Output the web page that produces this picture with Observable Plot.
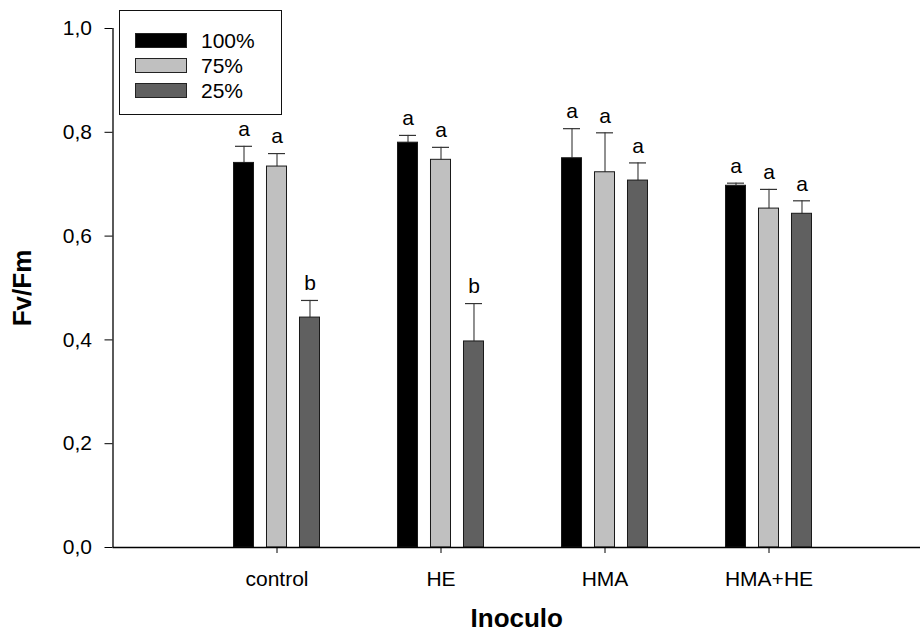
<!DOCTYPE html>
<html>
<head>
<meta charset="utf-8">
<script src="https://cdn.jsdelivr.net/npm/d3@7"></script>
<script src="https://cdn.jsdelivr.net/npm/@observablehq/plot@0.6"></script>
<style>
  html, body { margin: 0; padding: 0; background: #fff; }
  #wrap { position: relative; width: 920px; height: 633px; font-family: "Liberation Sans", Arial, sans-serif; }
  #legend {
    position: absolute; left: 119px; top: 10px; width: 163px; height: 105px;
    border: 1.5px solid #111; background: #fff; box-sizing: border-box;
    padding-top: 17px; padding-left: 15px;
  }
  .row { display: flex; align-items: center; height: 25px; }
  .sw { width: 52px; height: 15px; border: 1px solid #222; box-sizing: border-box; margin-right: 14px; }
  .lab { font-size: 21px; color: #000; line-height: 1; }
</style>
</head>
<body>
<div id="wrap"><div id="legend"></div></div>
<script>
// Fv/Fm by inoculum (groups) and irrigation level (series), mean + standard error
const groups = ["control", "HE", "HMA", "HMA+HE"];
const series = ["100%", "75%", "25%"];
const colors = ["#000000", "#c0c0c0", "#606060"];

const fvfm100 = [0.741, 0.780, 0.750, 0.697];
const fvfm75  = [0.734, 0.747, 0.723, 0.653];
const fvfm25  = [0.443, 0.397, 0.707, 0.643];

const se100 = [0.032, 0.014, 0.057, 0.005];
const se75  = [0.025, 0.024, 0.076, 0.037];
const se25  = [0.033, 0.073, 0.034, 0.025];

const letters100 = ["a", "a", "a", "a"];
const letters75  = ["a", "a", "a", "a"];
const letters25  = ["b", "b", "a", "a"];

const yTicks = [0, 0.2, 0.4, 0.6, 0.8, 1.0];

// long table built from the arrays above
const means = [fvfm100, fvfm75, fvfm25];
const errors = [se100, se75, se25];
const letters = [letters100, letters75, letters25];
const table = [];
groups.forEach((g, gi) => {
  series.forEach((s, si) => {
    table.push({group: g, gi, series: s, si, value: means[si][gi], se: errors[si][gi], letter: letters[si][gi]});
  });
});

// bar layout in x units (group index 1..4)
const offset = 0.2012;   // spacing between bars within a group
const half = 0.061;      // half bar width
const cap = 0.052;       // half error-cap width
const pos = d => d.gi + 1 + (d.si - 1) * offset;
const comma = v => v.toFixed(1).replace(".", ",");

const W = 920, H = 633, mL = 112.5, mR = 0, mT = 28, mB = 86;

const chart = Plot.plot({
  width: W,
  height: H,
  marginLeft: mL,
  marginRight: mR,
  marginTop: mT,
  marginBottom: mB,
  style: {fontFamily: "'Liberation Sans', Arial, sans-serif", color: "#000", background: "#fff", overflow: "visible"},
  x: {domain: [0, (W - mL - mR) / 164], axis: null},
  y: {domain: [0, 1], axis: null},
  color: {domain: series, range: colors},
  marks: [
    Plot.axisY({ticks: yTicks, tickFormat: comma, tickSize: 8, tickPadding: 13, fontSize: 21, label: null, stroke: "#000"}),
    Plot.axisX({ticks: [1, 2, 3, 4], tickFormat: i => groups[i - 1], tickSize: 6, tickPadding: 18, fontSize: 21, label: null}),
    Plot.rectY(table, {
      x1: d => pos(d) - half, x2: d => pos(d) + half,
      y1: 0, y2: "value",
      fill: "series", stroke: "#1a1a1a", strokeWidth: 1
    }),
    Plot.ruleX(table, {x: pos, y1: "value", y2: d => d.value + d.se, stroke: "#222", strokeWidth: 1}),
    Plot.ruleY(table, {y: d => d.value + d.se, x1: d => pos(d) - cap, x2: d => pos(d) + cap, stroke: "#333", strokeWidth: 1.2}),
    Plot.text(table, {x: pos, y: d => d.value + d.se, text: "letter", dy: -17, lineAnchor: "middle", fontSize: 21, fill: "#000"}),
    Plot.ruleX([0], {stroke: "#000", strokeWidth: 1.3}),
    Plot.ruleY([0], {stroke: "#000", strokeWidth: 1.3}),
    Plot.text(["Fv/Fm"], {text: d => d, frameAnchor: "left", textAnchor: "middle", rotate: -90, dx: -90.5, fontSize: 26, fontWeight: "bold", lineAnchor: "middle", fill: "#000"}),
    Plot.text(["Inoculo"], {text: d => d, frameAnchor: "bottom", dy: 71, fontSize: 26, fontWeight: "bold", lineAnchor: "middle", fill: "#000"})
  ]
});

const wrap = document.getElementById("wrap");
wrap.insertBefore(chart, wrap.firstChild);

// legend box
const legend = d3.select("#legend");
series.forEach((s, i) => {
  const row = legend.append("div").attr("class", "row");
  row.append("div").attr("class", "sw").style("background", colors[i]);
  row.append("span").attr("class", "lab").text(s);
});
</script>
</body>
</html>
